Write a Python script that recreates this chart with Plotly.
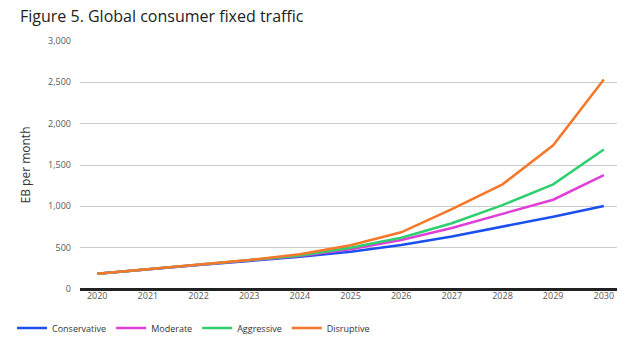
import plotly.graph_objects as go

years = [2020, 2021, 2022, 2023, 2024, 2025, 2026, 2027, 2028, 2029, 2030]
conservative = [185, 240, 290, 340, 390, 450, 532, 635, 754, 875, 1005]
moderate = [185, 240, 290, 343, 400, 480, 593, 738, 905, 1080, 1378]
aggressive = [185, 240, 292, 345, 405, 500, 621, 795, 1015, 1266, 1688]
disruptive = [185, 242, 295, 350, 420, 530, 686, 965, 1266, 1738, 2535]

series = [
    ("Conservative", conservative, "#1a4ff0"),
    ("Moderate", moderate, "#e03fd8"),
    ("Aggressive", aggressive, "#2fcf6f"),
    ("Disruptive", disruptive, "#f5782a"),
]

fig = go.Figure()
for name, vals, col in series:
    fig.add_trace(go.Scatter(x=years, y=vals, name=name, mode="lines",
                             line=dict(color=col, width=2.5)))

font = "Open Sans, Noto Sans, sans-serif"
fig.update_layout(
    width=643, height=344,
    margin=dict(l=80, r=26, t=41, b=55, autoexpand=False),
    paper_bgcolor="white", plot_bgcolor="white",
    font=dict(family=font, color="#595959", size=9),
    title=dict(text="Figure 5. Global consumer fixed traffic", x=20/643, xanchor="left",
               y=1 - 16/344, yanchor="middle", font=dict(size=16, color="#222222", family=font)),
    showlegend=True,
    legend=dict(orientation="h", xref="container", x=12/643, xanchor="left",
                yref="container", y=1 - 328/344, yanchor="middle",
                font=dict(size=9, color="#333333"), itemwidth=30, traceorder="normal"),
    xaxis=dict(range=[2019.66, 2030.26], tickmode="array", tickvals=years,
               ticktext=[str(y) for y in years], showgrid=False, zeroline=False,
               showline=False, ticks="", tickfont=dict(size=9, color="#595959")),
    yaxis=dict(range=[0, 3000], tickvals=[0, 500, 1000, 1500, 2000, 2500, 3000],
               tickformat=",", showgrid=True, gridcolor="#cccccc", gridwidth=1,
               zeroline=True, zerolinecolor="#222222", zerolinewidth=2.5,
               ticks="", ticklabelstandoff=8, tickfont=dict(size=9, color="#595959"),
               title=dict(text="EB per month", font=dict(size=12, color="#333333"), standoff=14)),
)

fig.write_html("out.html")
